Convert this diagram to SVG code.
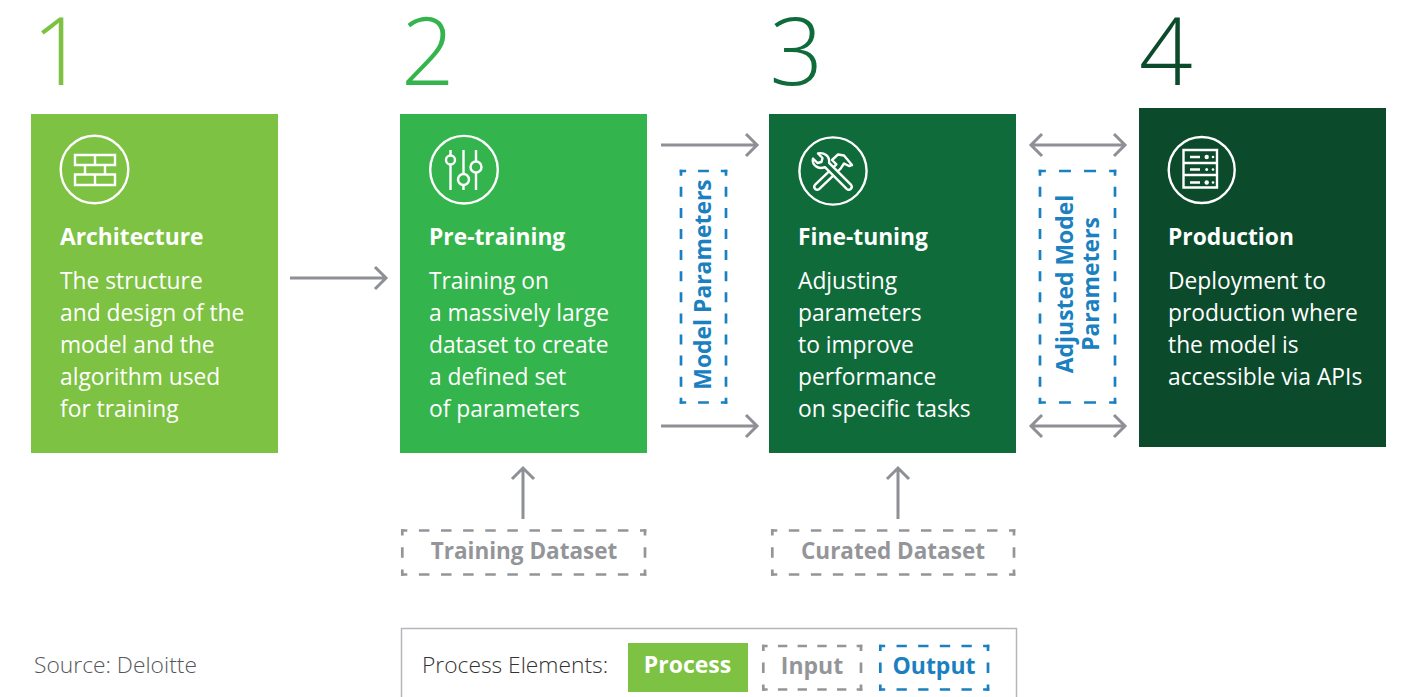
<svg xmlns="http://www.w3.org/2000/svg" width="1404" height="697" viewBox="0 0 1404 697">
<style>
text{font-family:"Open Sans","Noto Sans","DejaVu Sans",sans-serif}
.num{font-size:94px;font-weight:300}
.h{font-size:22.800px;font-weight:700;fill:#fff}
.b{font-size:22.800px;fill:#fff}
.ic{fill:none;stroke:#fff;stroke-width:2.400}
.conn{fill:none;stroke:#8e9096;stroke-width:3}
.di,.do{fill:none;stroke-width:2.700;stroke-dasharray:10 11;stroke-dashoffset:4}
.di{stroke:#939599}
.do{stroke:#1a80c0}
.li{font-size:22.500px;font-weight:700;fill:#939599;text-anchor:middle}
.lo{font-size:22.900px;font-weight:700;fill:#1a80c0;text-anchor:middle}
.lg{font-size:22.800px;font-weight:300}
</style>
<rect width="1404" height="697" fill="#fff"/>
<g id="connectors" class="conn">
<path d="M290 278H386M375 267l11 11-11 11"/>
<path d="M661 145H757M746 134l11 11-11 11"/>
<path d="M661 426H757M746 415l11 11-11 11"/>
<path d="M1031 145H1125M1042 134l-11 11 11 11M1114 134l11 11-11 11"/>
<path d="M1031 426H1125M1042 415l-11 11 11 11M1114 415l11 11-11 11"/>
<path d="M523 519V468M512 479l11-11 11 11"/>
<path d="M898 519V468M887 479l11-11 11 11"/>
</g>
<g id="node-architecture">
<text class="num" x="32" y="85" fill="#7dc242">1</text>
<rect x="31" y="114" width="247" height="339" fill="#7dc242"/>
<g class="ic"><circle cx="94.500" cy="169.500" r="33.800"/>
<path d="M75 155H115V165H75ZM95 155V165M85 165V174.500M105 165V174.500M75 174.500H115V185H75ZM95 174.500V185"/></g>
<text class="h" x="60" y="245">Architecture</text>
<text class="b" x="60" y="289">The structure</text>
<text class="b" x="60" y="321">and design of the</text>
<text class="b" x="60" y="353">model and the</text>
<text class="b" x="60" y="385">algorithm used</text>
<text class="b" x="60" y="417">for training</text>
</g>
<g id="node-pretraining">
<text class="num" x="401" y="85" fill="#34b44c">2</text>
<rect x="400" y="114" width="247" height="339" fill="#34b44c"/>
<g class="ic"><circle cx="464" cy="169.700" r="33.800"/>
<path d="M450.500 150V155.500M450.500 164.500V190M463.500 150V174M463.500 185V190M476 150V161.500M476 172.500V190"/>
<circle cx="450.500" cy="160" r="4.500"/><circle cx="463.500" cy="179.500" r="5.500"/><circle cx="476" cy="167" r="5.500"/></g>
<text class="h" x="429" y="245">Pre-training</text>
<text class="b" x="429" y="289">Training on</text>
<text class="b" x="429" y="321">a massively large</text>
<text class="b" x="429" y="353">dataset to create</text>
<text class="b" x="429" y="385">a defined set</text>
<text class="b" x="429" y="417">of parameters</text>
</g>
<g id="node-finetuning">
<text class="num" x="769.500" y="85" fill="#0f6b3a">3</text>
<rect x="769" y="114" width="247" height="339" fill="#0f6b3a"/>
<g class="ic" stroke-linejoin="round"><circle cx="833" cy="171" r="33.600"/>
<path d="M836.400 164.400L832 160L838 154.500L844 155.500L852 165L849 166L844 163.500L840.600 168.600L819.100 189.100A3 3 0 0 1 814.900 184.900Z"/>
<path fill="#0f6b3a" d="M829.100 162.900C830 156 824 152 818 153.500L822.500 158L821.500 162L817.500 163L813 158.500C811.500 165 818 170 824.900 167.100L846.900 189.100A3 3 0 0 0 851.100 184.900Z"/></g>
<text class="h" x="798" y="245">Fine-tuning</text>
<text class="b" x="798" y="289">Adjusting</text>
<text class="b" x="798" y="321">parameters</text>
<text class="b" x="798" y="353">to improve</text>
<text class="b" x="798" y="385">performance</text>
<text class="b" x="798" y="417">on specific tasks</text>
</g>
<g id="node-production">
<text class="num" x="1139" y="85" fill="#0b4a2b">4</text>
<rect x="1139" y="108" width="247" height="339" fill="#0b4a2b"/>
<g class="ic"><circle cx="1201.700" cy="170" r="33"/>
<path d="M1183.500 150H1217V187.500H1183.500ZM1183.500 163H1217M1183.500 175H1217M1190 157H1200M1190 169.500H1200M1190 182.500H1200"/></g>
<g fill="#fff"><circle cx="1206.700" cy="157" r="2.200"/><circle cx="1213" cy="157" r="1.300"/><circle cx="1206.700" cy="169.500" r="1.500"/><circle cx="1213" cy="169.500" r="1.300"/><circle cx="1206.700" cy="182.500" r="2.200"/><circle cx="1213" cy="182.500" r="1.300"/></g>
<text class="h" x="1168" y="245">Production</text>
<text class="b" x="1168" y="289">Deployment to</text>
<text class="b" x="1168" y="321">production where</text>
<text class="b" x="1168" y="353">the model is</text>
<text class="b" x="1168" y="385">accessible via APIs</text>
</g>
<g id="output-model-parameters">
<g class="do">
<path pathLength="44" d="M679.700 171H727.300"/><path pathLength="44" d="M679.700 402.500H727.300"/>
<path pathLength="233" d="M681 169.700V403.800"/><path pathLength="233" d="M726 169.700V403.800"/>
</g>
<text class="lo" transform="translate(711 284.500) rotate(-90)">Model Parameters</text>
</g>
<g id="output-adjusted-parameters">
<g class="do">
<path pathLength="65" d="M1038.700 171H1116.300"/><path pathLength="65" d="M1038.700 402.500H1116.300"/>
<path pathLength="233" d="M1040 169.700V403.800"/><path pathLength="233" d="M1115 169.700V403.800"/>
</g>
<text class="lo" transform="translate(1073 284) rotate(-90)">Adjusted Model</text>
<text class="lo" transform="translate(1099 284) rotate(-90)">Parameters</text>
</g>
<g id="input-training-dataset">
<g class="di">
<path pathLength="233" d="M401 530.500H646.300"/><path pathLength="233" d="M401 574.500H646.300"/>
<path pathLength="44" d="M402.300 529.200V575.800"/><path pathLength="44" d="M645 529.200V575.800"/>
</g>
<text class="li" x="524" y="559">Training Dataset</text>
</g>
<g id="input-curated-dataset">
<g class="di">
<path pathLength="233" d="M771 530.500H1015.300"/><path pathLength="233" d="M771 574.500H1015.300"/>
<path pathLength="44" d="M772.300 529.200V575.800"/><path pathLength="44" d="M1014 529.200V575.800"/>
</g>
<text class="li" x="893" y="559">Curated Dataset</text>
</g>
<g id="source"><text class="lg" x="34" y="673" fill="#55575b">Source: Deloitte</text></g>
<g id="legend">
<path d="M401.500 697V628.500H1016.500V697" fill="none" stroke="#b5b6ba" stroke-width="1.500"/>
<text class="lg" x="422" y="673" fill="#333">Process Elements:</text>
<rect x="628" y="643" width="120" height="49" fill="#7dc242"/>
<text x="687.500" y="673" font-size="23" font-weight="700" fill="#fff" text-anchor="middle">Process</text>
<g class="di">
<path pathLength="107" d="M762 646H862.300"/><path pathLength="107" d="M762 689.500H862.300"/>
<path pathLength="44" d="M763.300 644.700V690.800"/><path pathLength="44" d="M861 644.700V690.800"/>
</g>
<text x="812" y="674" font-size="23" font-weight="700" fill="#939599" text-anchor="middle">Input</text>
<g class="do">
<path pathLength="107" d="M879 646H989.300"/><path pathLength="107" d="M879 689.500H989.300"/>
<path pathLength="44" d="M880.300 644.700V690.800"/><path pathLength="44" d="M988 644.700V690.800"/>
</g>
<text x="934" y="674" font-size="23" font-weight="700" fill="#1a80c0" text-anchor="middle">Output</text>
</g>
</svg>
